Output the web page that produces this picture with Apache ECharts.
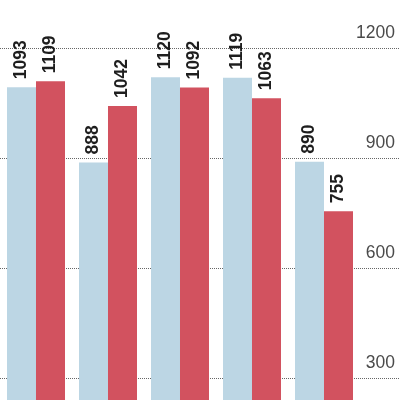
<!DOCTYPE html>
<html><head><meta charset="utf-8">
<script src="https://cdn.jsdelivr.net/npm/echarts@6/dist/echarts.min.js"></script>
<style>html,body{margin:0;padding:0;background:#fff}#c{width:400px;height:400px}</style>
</head><body><div id="c"></div>
<script>
var categories = [0, 1, 2, 3, 4];
var seriesBlue = [1093, 888, 1120, 1119, 890];
var seriesRed = [1109, 1042, 1092, 1063, 755];
var yTicks = [300, 600, 900, 1200];

function pairs(vals) { return vals.map(function (v, i) { return [categories[i], v]; }); }

var chart = echarts.init(document.getElementById('c'), null, {renderer: 'canvas'});
var labelStyle = {
  show: true, position: 'top', rotate: 90, align: 'left', verticalAlign: 'middle',
  distance: 8, fontFamily: "'Liberation Sans', Arial, sans-serif", fontWeight: 'bold',
  fontSize: 17.5, color: '#1e1e1e',
  formatter: function (p) { return String(p.value[1]); }
};
chart.setOption({
  animation: false,
  grid: {left: 0, right: 0, top: 48, bottom: 0, containLabel: false},
  xAxis: {
    type: 'value', min: -0.5, max: 5.0556,
    axisLine: {show: false}, axisTick: {show: false}, axisLabel: {show: false}, splitLine: {show: false}
  },
  yAxis: {
    type: 'value', position: 'right', min: 240, max: 1200,
    axisLine: {show: false},
    axisTick: {show: false, customValues: yTicks},
    splitLine: {show: true, lineStyle: {type: 'dotted', color: '#666', width: 1}},
    axisLabel: {
      customValues: yTicks,
      inside: true, margin: 5, align: 'right', verticalAlign: 'bottom',
      padding: [0, 0, 6, 0],
      formatter: function (v) { return String(v); },
      fontFamily: "'Liberation Sans Narrow', 'Liberation Sans', Arial, sans-serif",
      fontSize: 17.5, color: '#4a4a4a'
    }
  },
  series: [
    {type: 'bar', data: pairs(seriesBlue), barGap: '0%', barWidth: 29,
     itemStyle: {color: '#bcd6e4'}, label: labelStyle, z: 3},
    {type: 'bar', data: pairs(seriesRed), barGap: '0%', barWidth: 29,
     itemStyle: {color: '#d2525f'}, label: labelStyle, z: 3}
  ]
});
</script></body></html>
